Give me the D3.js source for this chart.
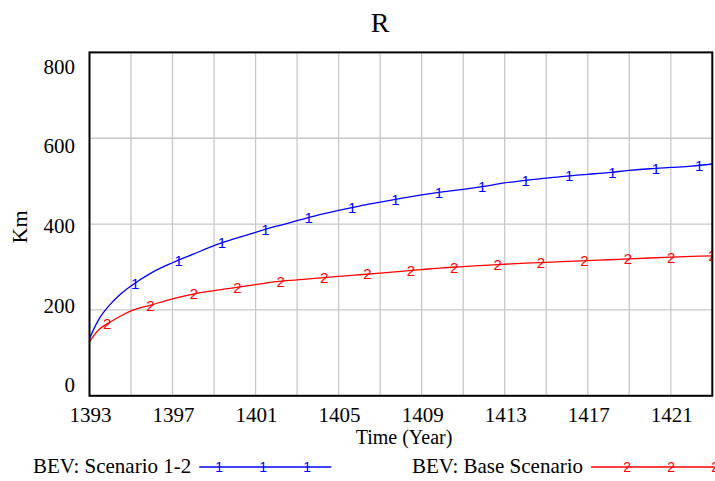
<!DOCTYPE html>
<html>
<head>
<meta charset="utf-8">
<script src="https://cdn.jsdelivr.net/npm/d3@7"></script>
<style>
  html, body { margin: 0; padding: 0; background: #fff; }
  svg { display: block; }
  text { font-family: "Liberation Serif", "Times New Roman", serif; fill: #000; }
</style>
</head>
<body>
<svg id="chart" width="715" height="481"></svg>
<script>
// Simulation output: vehicle range R (Km) over time (Year)
const years = [1393, 1393.25, 1393.5, 1394, 1394.5, 1395, 1396, 1397, 1398, 1399, 1400,
  1401, 1402, 1403, 1404, 1405, 1406, 1407, 1408, 1409, 1410, 1411, 1412, 1413, 1414,
  1415, 1416, 1417, 1418, 1419, 1420, 1421, 1422, 1423];

const scenario12 = [133, 160, 182, 213, 237, 256, 287, 310, 330, 350, 366,
  381, 395, 408, 421, 432, 442, 451, 460, 468, 475, 481, 488, 496, 502,
  507, 512, 516, 520, 525, 529, 532, 535, 540];

const baseScenario = [125, 143, 156, 172, 186, 198, 212, 226, 237, 245, 252,
  259, 266, 270, 274, 278, 282, 286, 290, 294, 298, 301, 304, 306.5, 309,
  311, 313, 315, 317, 319, 321, 323, 325, 326];

const xTicks = [1393, 1397, 1401, 1405, 1409, 1413, 1417, 1421];
const yTicks = [0, 200, 400, 600, 800];

const seriesNames = ["BEV: Scenario 1-2", "BEV: Base Scenario"];
const seriesMarks = ["1", "2"];
const seriesColors = ["#0000ff", "#ff0000"];
const markerStart = [1395.2, 1393.85];   // first marker year on each line
const markerStep = 2.09;                 // years between markers

const svg = d3.select("#chart");
const W = 715, H = 481;
const m = { left: 89.5, right: 2.7, top: 52.4, bottom: 85.2 };

const x = d3.scaleLinear().domain([1393, 1423]).range([m.left, W - m.right]);
const y = d3.scaleLinear().domain([0, 800]).range([H - m.bottom, m.top]);
// tick labels are pulled inward so the end labels stay inside the frame
const yLabel = d3.scaleLinear().domain([0, 800]).range([y(0) - 11, y(800) + 14]);

// grid
const gridX = d3.range(1395, 1423, 2);
svg.append("g").selectAll("line").data(gridX).join("line")
  .attr("x1", d => x(d)).attr("x2", d => x(d))
  .attr("y1", y(800)).attr("y2", y(0))
  .attr("stroke", "#c8c8c8").attr("stroke-width", 1.3);
svg.append("g").selectAll("line").data([200, 400, 600]).join("line")
  .attr("x1", x(1393)).attr("x2", x(1423))
  .attr("y1", d => y(d)).attr("y2", d => y(d))
  .attr("stroke", "#c8c8c8").attr("stroke-width", 1.3);

// series
const seriesData = [scenario12, baseScenario];
const line = d3.line().x(d => x(d[0])).y(d => y(d[1])).curve(d3.curveMonotoneX);
svg.append("clipPath").attr("id", "plot")
  .append("rect").attr("x", x(1393)).attr("y", y(800))
  .attr("width", x(1423) - x(1393) + 1).attr("height", y(0) - y(800));

seriesData.forEach((vals, i) => {
  const pts = years.map((yr, j) => [yr, vals[j]]);
  svg.append("path").datum(pts)
    .attr("d", line)
    .attr("fill", "none")
    .attr("stroke", seriesColors[i])
    .attr("stroke-width", 1.3);
  const interp = yr => {
    const k = d3.bisectRight(years, yr);
    if (k <= 0) return vals[0];
    if (k >= years.length) return vals[vals.length - 1];
    const t = (yr - years[k - 1]) / (years[k] - years[k - 1]);
    return vals[k - 1] + t * (vals[k] - vals[k - 1]);
  };
  const marks = d3.range(markerStart[i], 1423.3, markerStep).map(yr => [Math.min(yr, 1423), interp(yr)]);
  svg.append("g").attr("clip-path", "url(#plot)")
    .selectAll("text").data(marks).join("text")
    .attr("x", d => x(d[0])).attr("y", d => y(d[1]))
    .attr("dy", "0.36em")
    .attr("text-anchor", "middle")
    .style("font-family", "'Liberation Sans', Arial, sans-serif")
    .style("font-size", "15px")
    .style("fill", seriesColors[i])
    .text(seriesMarks[i]);
});

// frame
svg.append("rect")
  .attr("x", x(1393)).attr("y", y(800))
  .attr("width", x(1423) - x(1393)).attr("height", y(0) - y(800))
  .attr("fill", "none").attr("stroke", "#000").attr("stroke-width", 2);

// y tick labels
svg.append("g").selectAll("text").data(yTicks).join("text")
  .attr("x", 75).attr("y", d => yLabel(d)).attr("dy", "0.35em")
  .attr("text-anchor", "end").style("font-size", "21px")
  .text(d => d);

// x tick labels
svg.append("g").selectAll("text").data(xTicks).join("text")
  .attr("x", d => x(d) + 1).attr("y", 421.5)
  .attr("text-anchor", "middle").style("font-size", "21px")
  .text(d => d);

// titles
svg.append("text").attr("x", 380).attr("y", 31.5).attr("text-anchor", "middle")
  .style("font-size", "28px").text("R");
svg.append("text").attr("x", 404).attr("y", 444).attr("text-anchor", "middle")
  .style("font-size", "20px").text("Time (Year)");
svg.append("text").attr("transform", "translate(26.5,227) rotate(-90)")
  .attr("text-anchor", "middle").style("font-size", "22px").text("Km");

// legend
const legendX = [33, 412];
const legendY = 473;
const legendLen = [132, 140];
const legendMarkOffset = [20, 36];
seriesNames.forEach((name, i) => {
  const t = svg.append("text").attr("x", legendX[i]).attr("y", legendY)
    .style("font-size", "21px").text(name);
  const tw = t.node().getComputedTextLength();
  const x0 = legendX[i] + tw + 8;
  svg.append("line").attr("x1", x0).attr("x2", x0 + legendLen[i])
    .attr("y1", legendY - 6).attr("y2", legendY - 6)
    .attr("stroke", seriesColors[i]).attr("stroke-width", 1.3);
  [0, 1, 2].forEach(k => {
    svg.append("text").attr("x", x0 + legendMarkOffset[i] + k * 44).attr("y", legendY - 6)
      .attr("dy", "0.36em").attr("text-anchor", "middle")
      .style("font-family", "'Liberation Sans', Arial, sans-serif")
      .style("font-size", "14px").style("fill", seriesColors[i])
      .text(seriesMarks[i]);
  });
});
</script>
</body>
</html>
